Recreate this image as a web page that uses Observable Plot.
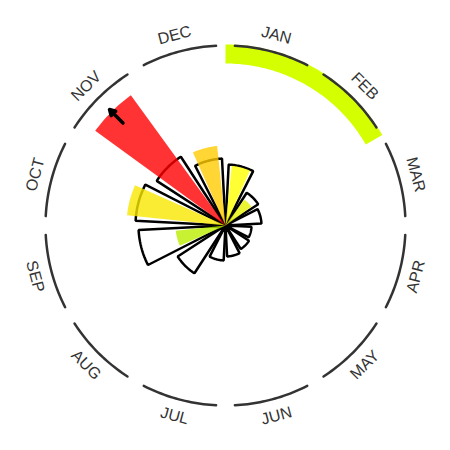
<!DOCTYPE html>
<html>
<head>
<meta charset="utf-8">
<script src="https://cdn.jsdelivr.net/npm/d3@7"></script>
<script src="https://cdn.jsdelivr.net/npm/@observablehq/plot@0.6"></script>
<style>
  html, body { margin: 0; padding: 0; background: #fff; }
  #chart { width: 450px; height: 450px; }
</style>
</head>
<body>
<div id="chart"></div>
<script>
// ---- data ----
const months = ["JAN","FEB","MAR","APR","MAY","JUN","JUL","AUG","SEP","OCT","NOV","DEC"];
const average = [61, 39, 36, 26, 28, 31, 35, 57, 87, 90, 82, 67];      // outlined bars
const current = [60, 32, 0, 0, 0, 0, 0, 0, 50, 99, 210, 80];           // filled bars (NOV off the scale)
const currentColors = ["#ffff00","#e6f200","#ffffff","#ffffff","#ffffff","#ffffff","#ffffff","#ffffff","#bbee00","#f7e700","#ff0000","#ffcc00"];
const highlightMonths = ["JAN","FEB"];
const barCap = 161;        // largest value drawn; larger values get an arrow
const ringValue = 180;     // month ring
const labelValue = 197;

// ---- geometry helpers (data units -> x/y data space) ----
const rad = a => a * Math.PI / 180;
function arcPts(r, a0, a1) {
  const n = Math.max(2, Math.ceil(Math.abs(a1 - a0)));
  return d3.range(n + 1).map(k => {
    const a = a0 + (a1 - a0) * k / n;
    return [r * Math.sin(rad(a)), r * Math.cos(rad(a))];
  });
}
function wedge(r0, r1, a0, a1) {
  const outer = arcPts(r1, a0, a1);
  const inner = r0 > 0 ? arcPts(r0, a1, a0) : [[0, 0]];
  return outer.concat(inner);
}

const outlineRows = [];
months.forEach((m, i) => {
  const c = i * 30 + 15;
  wedge(0, average[i], c - 12, c + 12).forEach(([x, y]) => outlineRows.push({m, x, y}));
});
const fillRows = [];
months.forEach((m, i) => {
  if (!current[i]) return;
  const c = i * 30 + 15;
  const v = Math.min(current[i], barCap);
  wedge(0, v, c - 9, c + 9).forEach(([x, y]) => fillRows.push({m, x, y, color: currentColors[i]}));
});
const ringRows = [];
months.forEach((m, i) => {
  arcPts(ringValue, i * 30 + 3, i * 30 + 27).forEach(([x, y]) => ringRows.push({m, x, y}));
});
const hiStart = months.indexOf(highlightMonths[0]) * 30;
const hiEnd = (months.indexOf(highlightMonths[highlightMonths.length - 1]) + 1) * 30;
const hiRows = wedge(162, 181, hiStart, hiEnd).map(([x, y]) => ({x, y}));

const labelRows = months.map((m, i) => {
  const a = i * 30 + 15;
  let rot = a > 90 && a < 270 ? a - 180 : (a > 180 ? a - 360 : a);
  return {m, x: labelValue * Math.sin(rad(a)), y: labelValue * Math.cos(rad(a)), rot};
});

const overflow = months.map((m, i) => ({m, i, v: current[i]})).filter(d => d.v > barCap).map(d => {
  const a = rad(d.i * 30 + 15);
  const r1 = barCap - 16, r2 = barCap + 3;
  return {x1: r1 * Math.sin(a), y1: r1 * Math.cos(a), x2: r2 * Math.sin(a), y2: r2 * Math.cos(a)};
});

const chart = Plot.plot({
  width: 450,
  height: 450,
  margin: 0,
  style: {background: "#fff"},
  x: {domain: [-225, 225], axis: null},
  y: {domain: [-225, 225], axis: null},
  color: {type: "identity"},
  marks: [
    Plot.line(hiRows, {x: "x", y: "y", curve: "linear-closed", fill: "#d4ff00", stroke: "none"}),
    Plot.line(ringRows, {x: "x", y: "y", z: "m", stroke: "#333", strokeWidth: 2.5}),
    Plot.line(outlineRows, {x: "x", y: "y", z: "m", curve: "linear-closed", fill: "#fff", stroke: "#000", strokeWidth: 2.5, strokeLinejoin: "miter"}),
    Plot.line(fillRows, {x: "x", y: "y", z: "m", curve: "linear-closed", fill: "color", fillOpacity: 0.8, stroke: "none"}),
    Plot.arrow(overflow, {x1: "x1", y1: "y1", x2: "x2", y2: "y2", stroke: "#000", strokeWidth: 3.5, headLength: 11}),
    Plot.text(labelRows, {x: "x", y: "y", text: "m", rotate: "rot", fontSize: 16, fill: "#333", fontFamily: "Liberation Sans, Arial, sans-serif"})
  ]
});
document.getElementById("chart").appendChild(chart);
</script>
</body>
</html>
